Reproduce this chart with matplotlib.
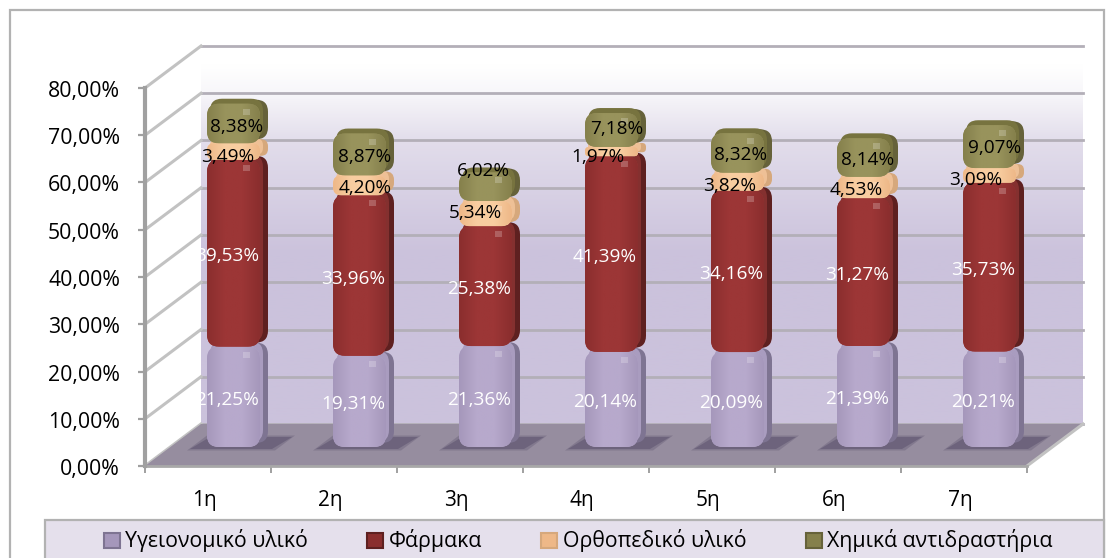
import numpy as np
import matplotlib
matplotlib.use("Agg")
import matplotlib.pyplot as plt
from matplotlib.patches import FancyBboxPatch, Patch, Polygon, Rectangle
from matplotlib.colors import LinearSegmentedColormap
from matplotlib.transforms import Affine2D

plt.rcParams['font.family'] = ['Open Sans', 'DejaVu Sans']

categories = ['1η', '2η', '3η', '4η', '5η', '6η', '7η']
ygeionomiko = [21.25, 19.31, 21.36, 20.14, 20.09, 21.39, 20.21]
farmaka = [39.53, 33.96, 25.38, 41.39, 34.16, 31.27, 35.73]
orthopediko = [3.49, 4.20, 5.34, 1.97, 3.82, 4.53, 3.09]
ximika = [8.38, 8.87, 6.02, 7.18, 8.32, 8.14, 9.07]
series_names = ['Υγειονομικό υλικό', 'Φάρμακα', 'Ορθοπεδικό υλικό', 'Χημικά αντιδραστήρια']
yticks = [0, 10, 20, 30, 40, 50, 60, 70, 80]

series = [ygeionomiko, farmaka, orthopediko, ximika]
# front colour: (edge, centre), side, top, label
styles = [
    ('#a597bb', '#b7a9cc', '#7e7492', '#a99cbf', 'white'),
    ('#8a2e2e', '#9c3636', '#5e2020', '#84302f', 'white'),
    ('#eeb888', '#f8cda0', '#d6a87c', '#eec096', 'black'),
    ('#85804c', '#98935c', '#66623a', '#77733f', 'black'),
]
# label nudges in pixels (the reference's labels were moved by hand)
label_dx = [[19] * 7, [19] * 7, [20, 31, 15, 12, 18, 18, 12], [29, 31, 23, 31, 29, 30, 31]]
label_dy = [[16] * 7, [16] * 7, [13.5, 16, 19.5, 14, 15, 16, 14], [16, 16, 35, 20, 17, 17, 18]]

W, H = 1112, 558
fig = plt.figure(figsize=(W / 100, H / 100), dpi=100, facecolor='white')

# outer chart frame and legend band
fig.add_artist(Rectangle((10 / W, -0.02), 1094 / W, 1.02 - 10 / H, transform=fig.transFigure,
                         fc='white', ec='#b2b2b2', lw=1.6, zorder=-2))
fig.add_artist(Rectangle((45 / W, -0.02), 1059 / W, 0.02 + 38 / H, transform=fig.transFigure,
                         fc='#e5e0ec', ec='#b2b2b2', lw=1.6, zorder=-1))

ax = fig.add_axes([145 / W, (H - 466) / H, 882 / W, 378 / H])
ax.patch.set_visible(False)
for s in ax.spines.values():
    s.set_visible(False)

XU, YU = 882 / 7, 378 / 80   # pixels per data unit
DX, DY = 56, 42              # depth of the 3D box in pixels


def off(dx, dy):
    return ax.transData + Affine2D().translate(dx, dy)


# back wall
wall_cmap = LinearSegmentedColormap.from_list('wall', [
    (0.0, '#cbc2dc'), (0.45, '#cbc2dc'), (0.75, '#e2ddeb'), (0.88, '#f8f7fa'), (0.95, '#ffffff'), (1.0, '#ffffff')])
ax.imshow(np.linspace(1, 0, 256).reshape(-1, 1), cmap=wall_cmap, vmin=0, vmax=1, extent=(0, 7, 0, 80),
          aspect='auto', transform=off(DX, DY), zorder=0, clip_on=False)

# horizontal and diagonal gridlines
for v in yticks:
    ax.plot([0, 7], [v, v], color='#b3afb8', lw=2, transform=off(DX, DY), zorder=1, clip_on=False)
    ax.plot([0, DX / XU], [v, v + DY / YU], color='#c2c2c2', lw=2.2, zorder=1, clip_on=False)

# floor
ax.add_patch(Polygon([(0, 0), (7, 0), (7 + DX / XU, DY / YU), (DX / XU, DY / YU)], closed=True,
                     fc='#968d9f', ec='none', zorder=2, clip_on=False))
ax.plot([7, 7 + DX / XU], [0, DY / YU], color='#c2c2c2', lw=2.2, zorder=2, clip_on=False)
ax.plot([0, 7], [0, 0], color='#a8a8a8', lw=2, zorder=3, clip_on=False)
ax.plot([0, 0], [0, 80], color='#a0a0a0', lw=3, zorder=3, clip_on=False)

FW = 53 / XU
FX, FY = 25.5, 19
ASPECT = XU / YU
grad_cmaps = [LinearSegmentedColormap.from_list('g', [st[0], st[1], st[1], st[0]]) for st in styles]
grad = np.linspace(0, 1, 64).reshape(1, -1)

for i in range(len(categories)):
    cx = i + 0.5
    # floor shadow: two soft layers
    for grow, alpha in ((3, 0.35), (0, 0.6)):
        ax.add_patch(Polygon([(cx - (18 + grow) / XU, (17 - grow / 2) / YU), (cx + (64 + grow) / XU, (17 - grow / 2) / YU),
                              (cx + (84 + grow) / XU, (29 + grow / 2) / YU), (cx + (2 - grow) / XU, (29 + grow / 2) / YU)],
                             closed=True, fc='#5f5570', ec='none', alpha=alpha, zorder=4, clip_on=False))
    bottom = 0.0
    for k, vals in enumerate(series):
        v = vals[i]
        z = 5 + k
        edge, centre, side, top, lab = styles[k]
        rpx = min(12, v * YU * 0.42)
        x0 = cx - FW / 2
        kw = dict(boxstyle=f'round,pad=0,rounding_size={rpx / XU}', mutation_aspect=ASPECT, ec='none',
                  clip_on=False, zorder=z)
        ax.add_patch(FancyBboxPatch((x0, bottom), FW, v, fc=side, transform=off(FX + 8, FY + 4), **kw))
        ax.add_patch(FancyBboxPatch((x0, bottom), FW, v, fc=top, transform=off(FX + 3, FY + 5), **kw))
        front = FancyBboxPatch((x0, bottom), FW, v, fc=centre, transform=off(FX, FY), **kw)
        ax.add_patch(front)
        im = ax.imshow(grad, cmap=grad_cmaps[k], extent=(x0, x0 + FW, bottom, bottom + v), aspect='auto',
                       transform=off(FX, FY), zorder=z, clip_on=True)
        im.set_clip_path(front)
        # glossy highlight near the top right corner
        if v * YU > 20:
            ax.add_patch(Rectangle((x0 + FW - 17 / XU, bottom + v - 11 / YU), 7 / XU, 6 / YU, fc='white',
                                   ec='none', alpha=0.22, transform=off(FX, FY), zorder=z, clip_on=False))
        bottom += v

    bottom = 0.0
    for k, vals in enumerate(series):
        v = vals[i]
        ax.text(cx, bottom + v / 2, f'{v:.2f}%'.replace('.', ','), color=styles[k][4], ha='center', va='center',
                fontsize=13.7, transform=off(label_dx[k][i], label_dy[k][i]), zorder=20, clip_on=False)
        bottom += v

ax.set_xlim(0, 7)
ax.set_ylim(0, 80)
ax.set_yticks(yticks)
ax.set_yticklabels([f'{v:.2f}%'.replace('.', ',') for v in yticks], fontsize=15.3, color='black')
ax.tick_params(axis='y', length=5, width=1.6, color='#a0a0a0', pad=13)
ax.set_xticks(np.arange(7) + 0.5)
ax.set_xticklabels(categories, fontsize=15, color='black')
ax.set_xticks(np.arange(8), minor=True)
ax.tick_params(axis='x', which='major', length=0, pad=17)
ax.tick_params(axis='x', which='minor', length=5, width=1.4, color='#a0a0a0')
for lab in ax.get_yticklabels():
    lab.set_transform(lab.get_transform() + Affine2D().translate(0, -1))
for lab in ax.get_xticklabels():
    lab.set_transform(lab.get_transform() + Affine2D().translate(-4, 0))

handles = [Patch(facecolor=st[0], edgecolor=st[2], lw=1.5) for st in styles]
fig.legend(handles, series_names, loc='center', bbox_to_anchor=(578 / W, (H - 541) / H), ncol=4, frameon=False,
           fontsize=15.3, handlelength=0.75, handleheight=0.7, handletextpad=0.25, columnspacing=2.8,
           borderpad=0, borderaxespad=0)

fig.savefig('out.png', dpi=100)
